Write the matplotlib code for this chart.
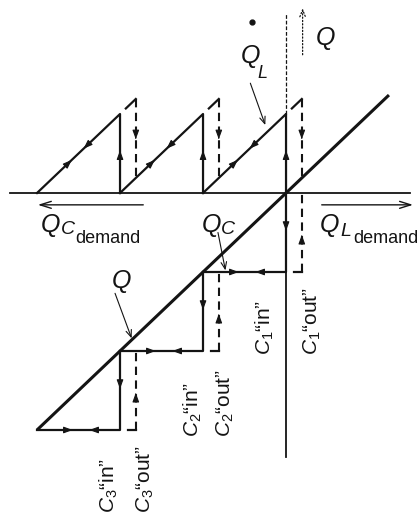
import matplotlib.pyplot as plt
import numpy as np

plt.rcParams['font.family'] = ['Liberation Sans', 'DejaVu Sans']
plt.rcParams['mathtext.fontset'] = 'custom'
plt.rcParams['mathtext.rm'] = 'Liberation Sans'
plt.rcParams['mathtext.it'] = 'Liberation Sans:italic'

# switching diagram, x = reactive power demand, y = compensation Q (units of one capacitor step)
tooth_start = [-3.0, -2.0, -1.0]      # Q_L sawtooth, one tooth per capacitor
tooth_height = 1.0
step_x = [0.0, -1.0, -2.0]            # C1, C2, C3 switching points ("in")
step_size = 1.0
hyst = 0.19                           # "out" offset of each step
q_line = [-3.0, 1.24]
axis_x = [-3.33, 1.49]
axis_y = [-3.34, 2.28]
cap_names = ['1', '2', '3']

ink = '#141414'
fig = plt.figure(figsize=(4.19, 5.18), dpi=100)
ax = fig.add_axes([0, 0, 1, 1])
ax.set_xlim(-3.446, 1.602)
ax.set_ylim(-4.114, 2.443)
ax.axis('off')


def arrow(p0, p1, style, lw=0.8, ls='-', scale=10):
    ax.annotate('', xy=p1, xytext=p0,
                arrowprops=dict(arrowstyle=style, color=ink, lw=lw, ls=ls,
                                shrinkA=0, shrinkB=0, mutation_scale=scale))


def head(x, y, dx, dy, size=9):
    # small filled arrowhead sitting on a line
    e = 0.02
    arrow((x - dx * e, y - dy * e), (x, y),
          '-|>,head_length=0.6,head_width=0.22', lw=0.8, scale=size)


def dashed(xs, ys):
    ax.plot(xs, ys, color=ink, lw=1.5, dashes=(4, 2.6), solid_capstyle='butt')


# axes
ax.plot(axis_x, [0, 0], color=ink, lw=1.3)
ax.plot([0, 0], [axis_y[0], 1.0], color=ink, lw=1.3)
ax.plot([0, 0], [1.0, axis_y[1]], color=ink, lw=0.9, dashes=(3, 1.5))

# Q arrow (dotted) and stray dot
arrow((0.2, 1.75), (0.2, 2.34), '->,head_length=0.5,head_width=0.2', lw=0.9, ls=':')
ax.plot([-0.41], [2.16], 'o', color=ink, ms=3.5)

# main Q line
ax.plot(q_line, q_line, color=ink, lw=2.2, solid_capstyle='butt')

# Q_L sawtooth above the axis
for s in tooth_start:
    e = s + tooth_height
    ax.plot([s, e, e], [0, tooth_height, 0], color=ink, lw=1.6)
    head(s + 0.42, 0.42, 1, 1)
    head(s + 0.56, 0.56, -1, -1)
    head(e, 0.54, 0, 1)
    # "out" hook and dashed drop to the next line
    ax.plot([e + 0.07, e + hyst], [1.0 + 0.07, 1.0 + hyst], color=ink, lw=1.6)
    dashed([e + hyst, e + hyst], [1.0 + hyst, hyst])
    head(e + hyst, 0.68, 0, -1)

# capacitor staircase below the axis
for c in step_x:
    top, bot = c, c - step_size
    ax.plot([c, c, bot], [top, bot, bot], color=ink, lw=1.6)
    head(c, top - 0.48, 0, -1)
    head(c - 0.57, bot, 1, 0)
    head(c - 0.37, bot, -1, 0)
    ax.plot([c + 0.1, c + hyst], [bot, bot], color=ink, lw=1.6)
    dashed([c + hyst, c + hyst], [bot, top])
    head(c + hyst, top - 0.53, 0, 1)

# demand direction arrows
arrow((-1.72, -0.15), (-2.99, -0.15), '->,head_length=0.8,head_width=0.25', lw=1.0)
arrow((0.43, -0.15), (1.53, -0.15), '->,head_length=0.8,head_width=0.25', lw=1.0)

# labels
big, mid, small = 18, 14, 13
leader = '->,head_length=0.5,head_width=0.2'
ax.text(0.35, 1.87, r'$Q$', fontsize=big, color=ink, va='baseline')
ax.text(-0.56, 1.65, r'$Q$', fontsize=big, color=ink, va='baseline')
ax.text(-0.35, 1.46, r'$L$', fontsize=mid - 1, color=ink, va='baseline')
arrow((-0.43, 1.39), (-0.25, 0.86), leader)

ax.text(-2.97, -0.49, r'$Q$', fontsize=big, color=ink, va='baseline')
ax.text(-2.72, -0.52, r'$C$', fontsize=mid, color=ink, va='baseline')
ax.text(-2.54, -0.63, 'demand', fontsize=small, color=ink, va='baseline')

ax.text(-1.02, -0.49, r'$Q$', fontsize=big, color=ink, va='baseline')
ax.text(-0.79, -0.52, r'$C$', fontsize=mid, color=ink, va='baseline')
arrow((-0.82, -0.50), (-0.73, -0.98), leader)

ax.text(0.40, -0.49, r'$Q$', fontsize=big, color=ink, va='baseline')
ax.text(0.65, -0.55, r'$L$', fontsize=mid, color=ink, va='baseline')
ax.text(0.81, -0.63, 'demand', fontsize=small, color=ink, va='baseline')

ax.text(-2.11, -1.20, r'$Q$', fontsize=big, color=ink, va='baseline')
arrow((-2.06, -1.27), (-1.86, -1.84), leader)

# rotated switching labels
in_x = [-0.253, -1.12, -2.13]
out_x = [0.313, -0.735, -1.70]
lab_y = [-2.05, -3.09, -4.05]
for n, xi, xo, yb in zip(cap_names, in_x, out_x, lab_y):
    ax.text(xi, yb, r'$C_{%s}$“in”' % n, fontsize=15, color=ink,
            rotation=90, ha='center', va='bottom')
    ax.text(xo, yb, r'$C_{%s}$“out”' % n, fontsize=15, color=ink,
            rotation=90, ha='center', va='bottom')

plt.savefig('out.png', dpi=100)
